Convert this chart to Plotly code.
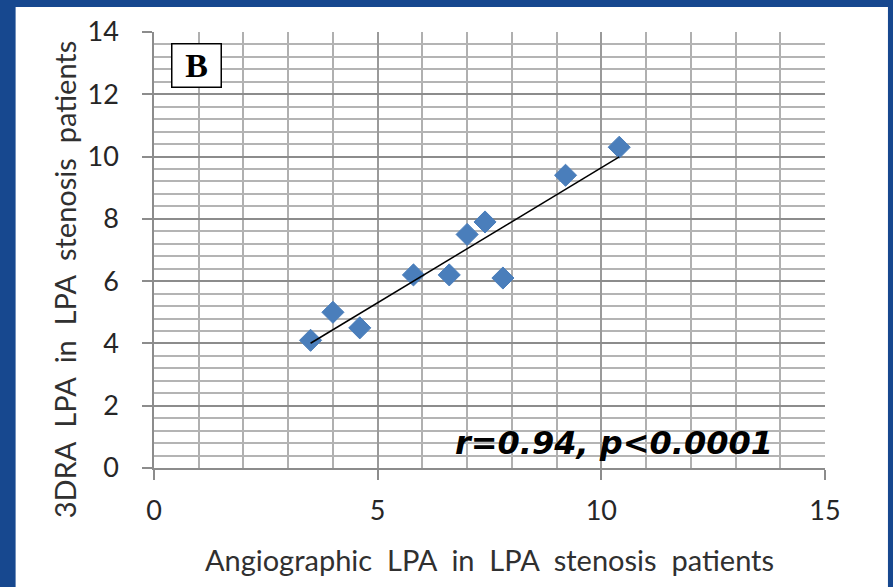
import numpy as np
import plotly.graph_objects as go

# Data
angio_lpa = [3.5, 4.0, 4.6, 5.8, 6.6, 7.0, 7.4, 7.8, 9.2, 10.4]
dra_lpa = [4.1, 5.0, 4.5, 6.2, 6.2, 7.5, 7.9, 6.1, 9.4, 10.3]
x_ticks = [0, 5, 10, 15]
y_ticks = [0, 2, 4, 6, 8, 10, 12, 14]
x_title = "Angiographic&nbsp; LPA&nbsp; in&nbsp; LPA&nbsp; stenosis&nbsp; patients"
y_title = "3DRA&nbsp; LPA&nbsp; in&nbsp; LPA&nbsp; stenosis&nbsp; patients"
panel_label = "B"
stat_text = "r=0.94, p<0.0001"

slope, intercept = np.polyfit(angio_lpa, dra_lpa, 1)
x_fit = [min(angio_lpa), max(angio_lpa)]
y_fit = [slope * v + intercept for v in x_fit]

W, H = 893, 587
L, R, T, B = 153.5, 68, 32, 118.5
pw, ph = W - L - R, H - T - B

def px2x(p):
    return (p - L) / pw

def px2y(p):
    return (H - B - p) / ph

fig = go.Figure()
fig.add_trace(go.Scatter(
    x=angio_lpa, y=dra_lpa, mode="markers",
    marker=dict(symbol="diamond", size=17, color="#4a7ebb",
                line=dict(color="#4a7ebb", width=1)),
    showlegend=False))
fig.add_trace(go.Scatter(
    x=x_fit, y=y_fit, mode="lines",
    line=dict(color="black", width=1.5), showlegend=False))

tick_font = dict(family="Lato, Open Sans, sans-serif", size=27, color="#262626")
title_font = dict(family="Lato, Open Sans, sans-serif", size=29, color="#303030")
fig.update_layout(
    width=W, height=H,
    margin=dict(l=L, r=R, t=T, b=B, pad=0),
    paper_bgcolor="#17488f",
    plot_bgcolor="white",
    xaxis=dict(range=[0, 15], tickvals=x_ticks, ticks="outside", ticklen=10,
               tickcolor="#8c8c8c", tickwidth=1.5, ticklabelstandoff=8,
               showgrid=True, gridcolor="#9a9a9a", gridwidth=1.5,
               minor=dict(dtick=1, showgrid=True, gridcolor="#b0b0b0", gridwidth=1.5),
               showline=True, linecolor="#8c8c8c", linewidth=1.5,
               zeroline=False, tickfont=tick_font,
               title=dict(text=x_title, font=title_font, standoff=26)),
    yaxis=dict(range=[0, 14], tickvals=y_ticks, ticks="outside", ticklen=10,
               tickcolor="#8c8c8c", tickwidth=1.5, ticklabelstandoff=18,
               showgrid=True, gridcolor="#8c8c8c", gridwidth=1.5,
               minor=dict(dtick=0.4, showgrid=True, gridcolor="#b4b4b4", gridwidth=1.5),
               showline=True, linecolor="#8c8c8c", linewidth=1.5,
               zeroline=False, tickfont=tick_font),
)

fig.add_shape(type="rect", xref="paper", yref="paper", layer="below",
              x0=px2x(15), x1=px2x(888), y0=px2y(600), y1=px2y(7),
              fillcolor="white", line=dict(width=0))

# y-axis title placed like the original (centred slightly below the plot middle)
fig.add_annotation(xref="paper", yref="paper", x=px2x(64), y=px2y(280),
                   text=y_title, textangle=-90, showarrow=False, font=title_font,
                   xanchor="center", yanchor="middle")

fig.add_annotation(xref="paper", yref="paper", x=px2x(196.5), y=px2y(65.5),
                   text="<b>" + panel_label + "</b>", showarrow=False,
                   font=dict(family="Liberation Serif, Times New Roman, serif", size=34, color="black"),
                   bordercolor="black", borderwidth=1.5, borderpad=3, bgcolor="white",
                   width=42, height=36,
                   xanchor="center", yanchor="middle")
fig.add_annotation(xref="paper", yref="paper", x=px2x(775), y=px2y(443),
                   text="<b><i>" + stat_text.replace("<", "&lt;") + "</i></b>", showarrow=False,
                   font=dict(family="DejaVu Sans, Verdana, sans-serif", size=32, color="black"),
                   xanchor="right", yanchor="middle")

fig.write_html("out.html", config={"displayModeBar": False},
               post_script="document.body.style.margin='0';")
